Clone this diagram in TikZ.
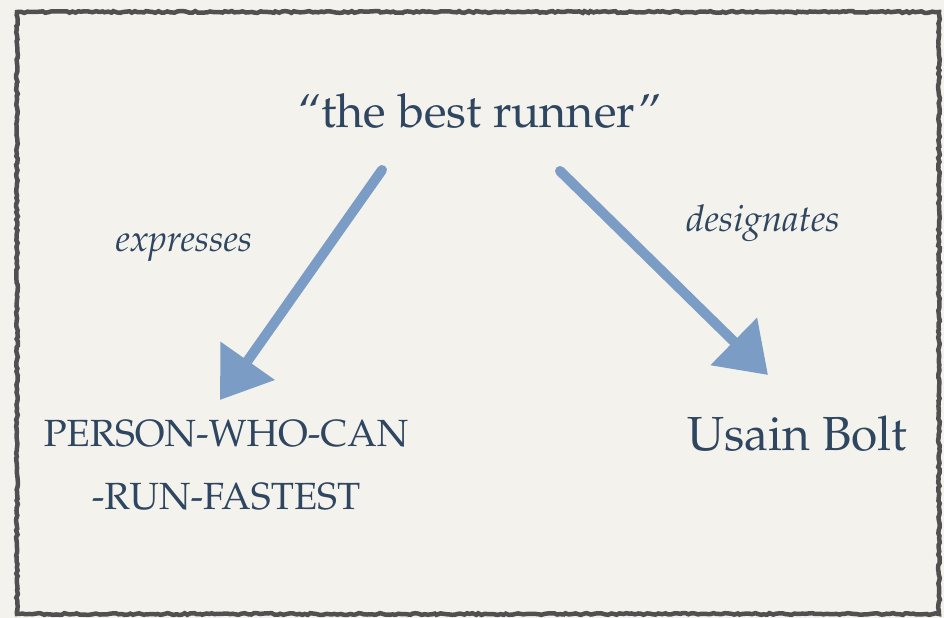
\documentclass[tikz,border=0pt]{standalone}
\usepackage[T1]{fontenc}
\usepackage{mathpazo}
\usetikzlibrary{arrows.meta,decorations.pathmorphing}
\definecolor{encre}{HTML}{2E4660}
\definecolor{craie}{HTML}{7B9CC4}
\definecolor{papier}{HTML}{F4F2ED}
\definecolor{cadre}{HTML}{505050}

\begin{document}
\begin{tikzpicture}[x=1bp,y=-1bp]
\tikzstyle{mot}=[text=encre,inner sep=0pt,anchor=base]
\tikzstyle{relation}=[mot,font=\fontsize{37}{42}\selectfont\itshape]
\tikzstyle{fleche}=[draw=craie,line width=10bp,line cap=round,-{Triangle[width=64bp,length=48bp]}]
\tikzstyle{bord}=[draw=cadre,line width=4.5bp,decorate,decoration={random steps,segment length=3bp,amplitude=0.9bp}]
\fill[papier] (0,0) rectangle (944,618);
\path[bord] (17,12) rectangle (939,614);
\node[mot,font=\fontsize{47}{52}\selectfont] (expr) at (480,128) {``the best runner''};
\node[mot,font=\fontsize{38}{63}\selectfont,align=center] (sens) at (226,509) {PERSON-WHO-CAN\\-RUN-FASTEST};
\node[mot,font=\fontsize{48}{52}\selectfont] (ref) at (797,450) {Usain Bolt};
\node[relation] (exprime) at (184,252) {expresses};
\node[relation] (designe) at (763,232) {designates};
%fleches
\coordinate (d1) at (382,170);
\coordinate (f1) at (220,400);
\coordinate (d2) at (560,171);
\coordinate (f2) at (768,375);
\draw[fleche] (d1)--(f1);
\draw[fleche] (d2)--(f2);
\end{tikzpicture}
\end{document}
